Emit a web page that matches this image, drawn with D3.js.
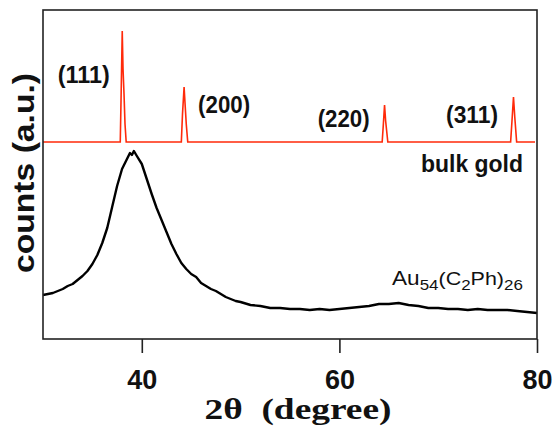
<!DOCTYPE html>
<html><head><meta charset="utf-8">
<script src="https://cdn.jsdelivr.net/npm/d3@7"></script>
<style>body{margin:0;background:#fff}svg{display:block}</style>
</head><body>
<script>
// 2θ (degree), counts (a.u.)
const auTheta = [30.0,30.5,31.0,31.5,32.0,32.5,33.0,33.5,34.0,34.5,35.0,35.5,36.0,36.5,37.0,37.5,38.0,38.5,38.8,39.0,39.2,39.5,40.0,40.5,41.0,41.5,42.0,42.5,43.0,43.5,44.0,44.5,45.0,45.5,46.0,46.5,47.0,47.5,48.0,48.5,49.0,49.5,50.0,51.0,52.0,53.0,54.0,55.0,56.0,57.0,58.0,59.0,60.0,61.0,62.0,63.0,64.0,65.0,66.0,67.0,68.0,69.0,70.0,71.0,72.0,73.0,74.0,75.0,76.0,77.0,78.0,79.0,80.0];
const auCounts = [44,45,46,48,50,53,55,59,63,68,75,84,96,111,132,153,170,180,186,184,188,183,175,160,145,131,119,107,95,85,76,70,65,62,56,53,50,48,45,42,40,38,37,34,33,31,31,30,30,29,30,29,30,31,32,33,35,35,36,34,33,31,31,30,30,29,30,29,29,29,28,27,26];
const goldTheta = [30.0,37.82,37.9,38.02,38.1,38.2,38.3,38.42,44.0,44.12,44.28,44.38,44.5,44.65,64.33,64.45,64.57,64.68,64.9,77.33,77.48,77.62,77.75,77.94,79.8];
const goldCounts = [197,197,240,308,270,245,215,197,197,225,252,235,215,197,197,215,234,218,197,197,220,242,222,197,197];
const xTicks = [40,60,80];
const peakLabels = ["(111)","(200)","(220)","(311)"];
const peakLabelTheta = [31.5,45.7,57.8,70.8];
const peakLabelCounts = [256,226,212,216];

const SANS="Arial, 'Liberation Sans', sans-serif";
const W=557,H=426;
const m={l:43,r:537,t:10,b:339};
const svg=d3.select("body").append("svg").attr("width",W).attr("height",H);
const x=d3.scaleLinear().domain([30,80]).range([m.l,m.r]);
const y=d3.scaleLinear().domain([0,329]).range([m.b,m.t]);

const line=d3.line().x(d=>x(d[0])).y(d=>y(d[1]));
svg.append("path").datum(auTheta.map((t,i)=>[t,auCounts[i]]))
  .attr("d",line).attr("fill","none").attr("stroke","#000").attr("stroke-width",2.4).attr("stroke-linejoin","round");
svg.append("path").datum(goldTheta.map((t,i)=>[t,goldCounts[i]]))
  .attr("d",line).attr("fill","none").attr("stroke","#ff2a0a").attr("stroke-width",1.6);

// frame
svg.append("rect").attr("x",m.l).attr("y",m.t).attr("width",m.r-m.l).attr("height",m.b-m.t)
  .attr("fill","none").attr("stroke","#222").attr("stroke-width",1.6);

const ax=svg.append("g").attr("transform",`translate(0,${m.b})`)
  .call(d3.axisBottom(x).tickValues(xTicks).tickSize(14).tickPadding(17).tickFormat(d3.format("d")));
ax.select(".domain").remove();
ax.selectAll(".tick line").attr("stroke","#222").attr("stroke-width",1.6);
ax.selectAll(".tick text").attr("font-size",27).attr("font-weight","bold").attr("fill","#111")
  .attr("font-family",SANS);

// peak labels
svg.selectAll(".pl").data(peakLabels).enter().append("text")
  .attr("x",(d,i)=>x(peakLabelTheta[i])).attr("y",(d,i)=>y(peakLabelCounts[i]))
  .attr("font-family",SANS).attr("font-size",23).attr("font-weight","bold").attr("fill","#111")
  .attr("textLength",52).attr("lengthAdjust","spacingAndGlyphs").text(d=>d);

svg.append("text").attr("x",421).attr("y",172).attr("font-family",SANS).attr("font-size",23).attr("font-weight","bold")
  .attr("fill","#111").attr("textLength",102).attr("lengthAdjust","spacingAndGlyphs").text("bulk gold");

const au=svg.append("text").attr("transform","translate(392,285) scale(1.13,1)")
  .attr("font-family",SANS).attr("fill","#111").attr("font-size",20);
au.append("tspan").text("Au");
au.append("tspan").attr("font-size",15).attr("dy",5).text("54");
au.append("tspan").attr("font-size",19).attr("dy",-5).text("(C");
au.append("tspan").attr("font-size",15).attr("dy",5).text("2");
au.append("tspan").attr("font-size",19).attr("dy",-5).text("Ph)");
au.append("tspan").attr("font-size",15).attr("dy",5).text("26");

svg.append("text").attr("transform","translate(34,173) rotate(-90)").attr("text-anchor","middle")
  .attr("font-family",SANS).attr("font-size",29).attr("font-weight","bold").attr("fill","#111")
  .attr("textLength",200).attr("lengthAdjust","spacingAndGlyphs").text("counts (a.u.)");

svg.append("text").attr("x",298).attr("y",419).attr("text-anchor","middle")
  .attr("font-family","'Liberation Serif','Times New Roman',serif").attr("font-size",29).attr("font-weight","bold")
  .attr("fill","#111").style("white-space","pre").attr("textLength",187).attr("lengthAdjust","spacingAndGlyphs")
  .text("2θ  (degree)");
</script>
</body></html>
